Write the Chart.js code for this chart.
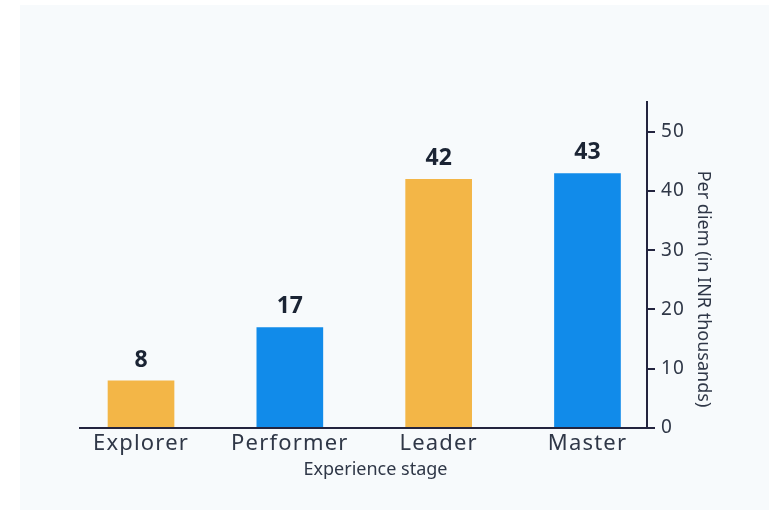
<!DOCTYPE html>
<html>
<head>
<meta charset="utf-8">
<title>Per diem by experience stage</title>
<script src="https://cdn.jsdelivr.net/npm/chart.js@4/dist/chart.umd.min.js"></script>
<style>
    html, body { margin: 0; padding: 0; background: #ffffff; }
    #panel {
        position: absolute;
        left: 20px;
        top: 5px;
        width: 749px;
        height: 505px;
        background: #f7fafc;
    }
    canvas { display: block; }
</style>
</head>
<body>
<div id="panel"><canvas id="perDiemChart" width="749" height="505"></canvas></div>
<script>
// 経験ステージごとの日当（千INR）
const stages = ['Explorer', 'Performer', 'Leader', 'Master'];
const perDiem = [8, 17, 42, 43];
const barColors = ['#f3b647', '#118bea', '#f3b647', '#118bea'];
const yTicks = [0, 10, 20, 30, 40, 50];
const xTitle = 'Experience stage';
const yTitle = 'Per diem (in INR thousands)';

const FONT = '"Noto Sans", "Open Sans", sans-serif';
const AXIS_COLOR = '#23243f';
const TEXT_COLOR = '#2f3747';

/**
 * 目盛りラベルの字間を少し広げる
 */
const tickSpacing = {
    id: 'tickSpacing',
    beforeDraw(chart) {
        chart.ctx.letterSpacing = '1.2px';
    },
    beforeDatasetsDraw(chart) {
        chart.ctx.letterSpacing = '0px';
    }
};

/**
 * 棒の上に値を表示
 */
const barValueLabels = {
    id: 'barValueLabels',
    afterDatasetsDraw(chart) {
        const { ctx } = chart;
        const meta = chart.getDatasetMeta(0);
        ctx.save();
        ctx.font = `bold 23px ${FONT}`;
        ctx.fillStyle = '#1b2434';
        ctx.textAlign = 'center';
        ctx.textBaseline = 'alphabetic';
        meta.data.forEach((bar, i) => {
            ctx.fillText(String(perDiem[i]), bar.x, bar.y - 14);
        });
        ctx.restore();
    }
};

/**
 * 軸タイトルの描画（位置を細かく調整するため自前で描く）
 */
const axisTitles = {
    id: 'axisTitles',
    afterDraw(chart) {
        const { ctx, chartArea } = chart;
        ctx.save();
        ctx.letterSpacing = '0px';
        ctx.fillStyle = TEXT_COLOR;
        ctx.textAlign = 'center';
        ctx.textBaseline = 'middle';

        ctx.font = `18px ${FONT}`;
        ctx.fillText(xTitle, (chartArea.left + chartArea.right) / 2 + 12, chartArea.bottom + 42);

        ctx.font = `18px ${FONT}`;
        ctx.translate(chartArea.right + 56, chartArea.bottom - 139);
        ctx.rotate(Math.PI / 2);
        ctx.fillText(yTitle, 0, 0);
        ctx.restore();
    }
};

const ctx = document.getElementById('perDiemChart').getContext('2d');

new Chart(ctx, {
    type: 'bar',
    data: {
        datasets: [{
            data: stages.map((s, i) => ({ x: i, y: perDiem[i] })),
            backgroundColor: barColors,
            borderWidth: 0,
            categoryPercentage: 1,
            barPercentage: 0.448
        }]
    },
    options: {
        responsive: false,
        animation: false,
        layout: {
            padding: { left: 60, top: 97, right: 0, bottom: 0 }
        },
        plugins: {
            legend: { display: false },
            tooltip: { enabled: false }
        },
        scales: {
            x: {
                type: 'linear',
                offset: false,
                min: -0.41,
                max: 3.4,
                afterBuildTicks: scale => {
                    scale.ticks = stages.map((s, i) => ({ value: i }));
                },
                afterFit: scale => { scale.height = 82; },
                grid: { display: false, offset: false },
                border: { display: true, color: AXIS_COLOR, width: 2 },
                ticks: {
                    callback: value => stages[value],
                    color: TEXT_COLOR,
                    font: { family: FONT, size: 22 },
                    padding: -5,
                    maxRotation: 0,
                    autoSkip: false
                }
            },
            y: {
                position: 'right',
                min: 0,
                max: 55,
                afterBuildTicks: scale => {
                    scale.ticks = yTicks.map(v => ({ value: v }));
                },
                afterFit: scale => { scale.width = 122; },
                grid: {
                    drawOnChartArea: false,
                    drawTicks: true,
                    tickLength: 8,
                    color: AXIS_COLOR,
                    lineWidth: 2
                },
                border: { display: true, color: AXIS_COLOR, width: 2 },
                ticks: {
                    color: TEXT_COLOR,
                    font: { family: FONT, size: 19 },
                    padding: 6
                }
            }
        }
    },
    plugins: [tickSpacing, barValueLabels, axisTitles]
});
</script>
</body>
</html>
